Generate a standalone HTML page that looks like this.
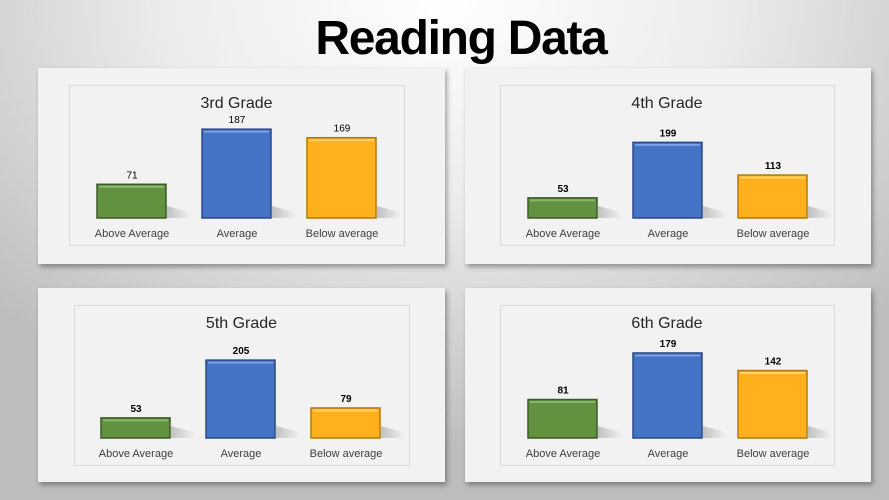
<!DOCTYPE html>
<html><head><meta charset="utf-8"><style>
html,body{margin:0;padding:0}
body{width:889px;height:500px;overflow:hidden;position:relative;font-family:"Liberation Sans",sans-serif;
background:radial-gradient(ellipse 70% 90% at 50% 0%,#ffffff 0%,#ececec 45%,#bdbdbd 100%);}
h1{position:absolute;left:0;width:922px;top:11px;margin:0;text-align:center;font-size:48px;font-weight:bold;color:#000;letter-spacing:-1.3px}
.card{position:absolute;background:#f2f2f2;box-shadow:2px 3px 5px rgba(0,0,0,.35)}
svg{position:absolute;left:0;top:0}
</style></head><body>
<h1>Reading Data</h1>
<div class="card" style="left:38px;top:68px;width:407px;height:196px"></div>
<div class="card" style="left:465px;top:68px;width:406px;height:196px"></div>
<div class="card" style="left:38px;top:288px;width:407px;height:194px"></div>
<div class="card" style="left:465px;top:288px;width:406px;height:194px"></div>
<svg id="s" width="889" height="500">
<defs>
<linearGradient id="sh" x1="0" y1="0" x2="1" y2="0"><stop offset="0" stop-color="#000" stop-opacity=".2"/><stop offset="1" stop-color="#000" stop-opacity="0"/></linearGradient>
</defs>
</svg>
<script>
const categories=["Above Average","Average","Below average"];
const titles=["3rd Grade","4th Grade","5th Grade","6th Grade"];
const grade3=[71,187,169];
const grade4=[53,199,113];
const grade5=[53,205,79];
const grade6=[81,179,142];
const axisMax=[200,250,250,200];
const series=[grade3,grade4,grade5,grade6];
const layout=[{bx:69,by:85,bw:335,bh:160,base:218,x0:97,bold:false},
{bx:500,by:85,bw:334,bh:160,base:218,x0:528,bold:true},
{bx:74,by:305,bw:335,bh:160,base:438,x0:101,bold:true},
{bx:500,by:305,bw:334,bh:160,base:438,x0:528,bold:true}];
const fills=["#629140","#4472c4","#ffb01c"];
const strokes=["#3c5a28","#2a4a86","#b07a10"];
const hi=["#8ab86a","#7aa0e8","#ffd36a"];
const svg=document.getElementById('s');const NS="http://www.w3.org/2000/svg";
function mk(t,a){const e=document.createElementNS(NS,t);for(const k in a)e.setAttribute(k,a[k]);svg.appendChild(e);return e;}
series.forEach((vals,i)=>{const L=layout[i];const plotH=95;
const y=v=>L.base-v/axisMax[i]*plotH;const x=j=>L.x0+j*105;
let r=mk('rect',{x:L.bx+.5,y:L.by+.5,width:L.bw,height:L.bh,fill:'none',stroke:'#d9d9d9'});

let t=mk('text',{x:L.bx+L.bw/2,y:L.by+23,'text-anchor':'middle','font-size':16,fill:'#262626'});t.textContent=titles[i];

vals.forEach((v,j)=>{const top=y(v),bx=x(j);
let s=mk('polygon',{points:`${bx+70},${L.base} ${bx+70},${Math.max(top,L.base-12)} ${bx+92},${L.base-6} ${bx+95},${L.base}`,fill:'url(#sh)'});

let b=mk('rect',{x:bx,y:top,width:69,height:L.base-top,fill:fills[j],stroke:strokes[j],'stroke-width':1.5});

let h=mk('rect',{x:bx+2,y:top+1.5,width:65,height:2,fill:hi[j]});

let vl=mk('text',{x:bx+35,y:top-6,'text-anchor':'middle','font-size':10,'font-weight':L.bold?'bold':'normal',fill:'#000'});vl.textContent=v;

let cl=mk('text',{x:bx+35,y:L.base+19,'text-anchor':'middle','font-size':11,fill:'#404040'});cl.textContent=categories[j];

});});
</script>
</body></html>
